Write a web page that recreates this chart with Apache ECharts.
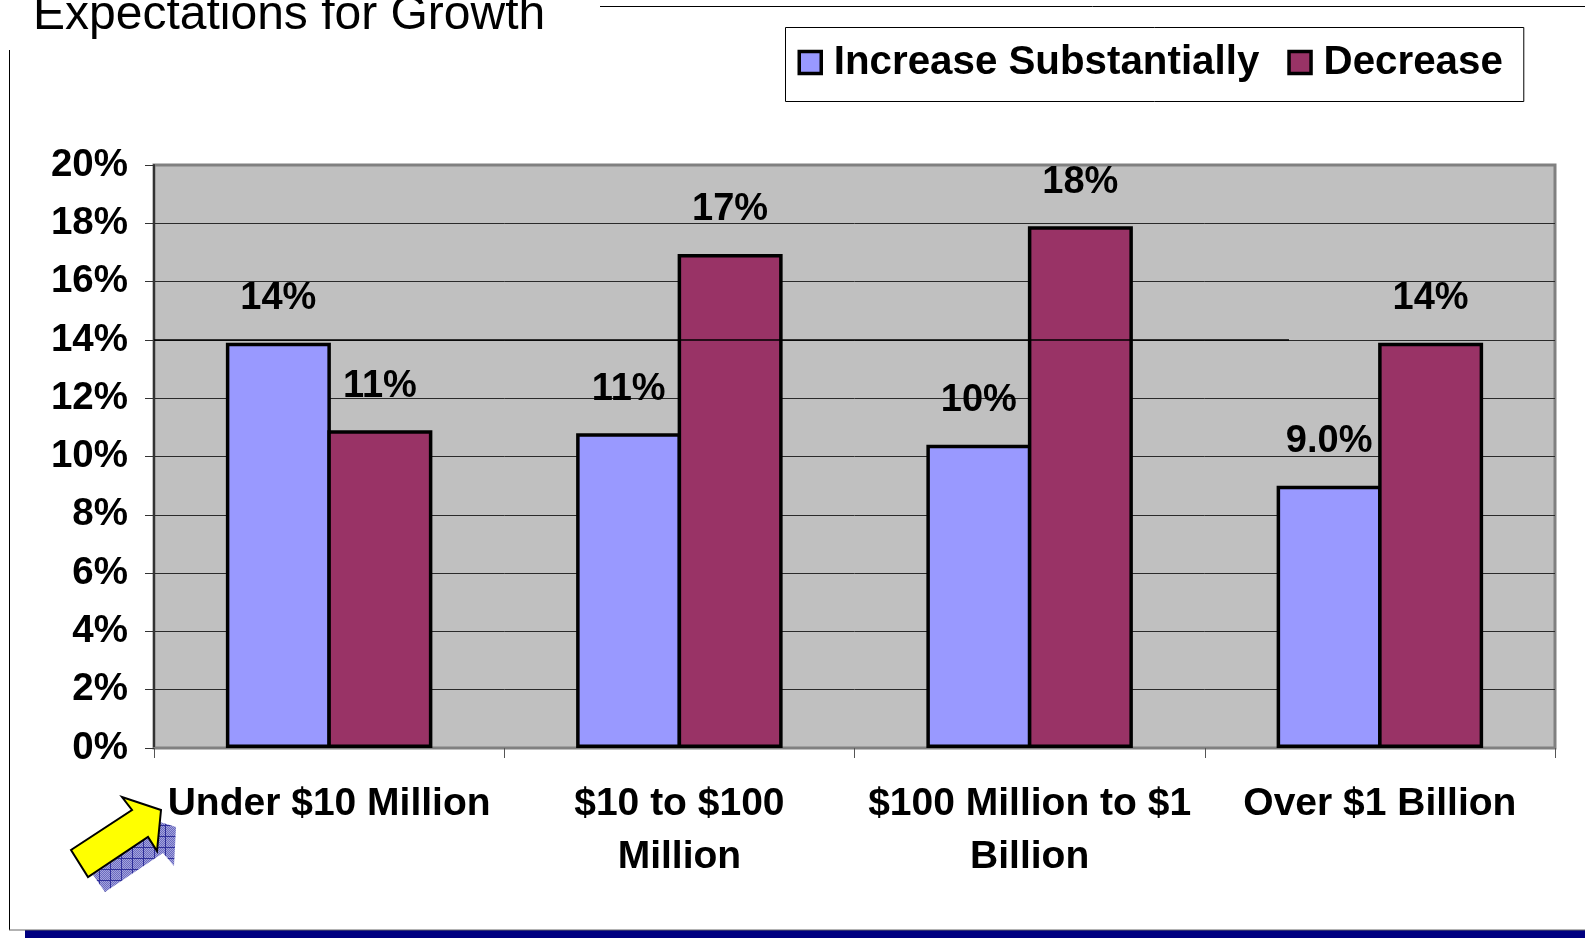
<!DOCTYPE html>
<html>
<head>
<meta charset="utf-8">
<style>html,body{margin:0;padding:0;background:#fff}#chart{width:1585px;height:938px}</style>
<script src="https://cdn.jsdelivr.net/npm/echarts@6/dist/echarts.min.js"></script>
</head>
<body>
<div id="chart"></div>
<script>
const categories = ['Under $10 Million', '$10 to $100\nMillion', '$100 Million to $1\nBillion', 'Over $1 Billion'];
const increaseSubstantially = [13.9, 10.8, 10.4, 9.0];
const decrease = [10.9, 16.95, 17.9, 13.9];
const seriesNames = ['Increase Substantially', 'Decrease'];
const yTicks = { min: 0, max: 20, interval: 2 };

const FONT = '"Liberation Sans", Arial, sans-serif';
const INK = '#000';

// Values under ten keep one decimal; the rest are whole percentages.
const percentLabel = p => (p.value < 10 ? p.value.toFixed(1) : Math.round(p.value)) + '%';

const barSeries = (name, data, color) => ({
  name, data, type: 'bar', barWidth: 105, barGap: '-3.33%',
  itemStyle: { color, borderColor: INK, borderWidth: 3.5 },
  label: {
    show: true, position: 'top', distance: 25, formatter: percentLabel,
    fontFamily: FONT, fontWeight: 'bold', fontSize: 38, color: INK
  }
});

// Cross-hatched tile used for the arrow's drop shadow.
function hatchTile() {
  const c = document.createElement('canvas');
  c.width = c.height = 11;
  const g = c.getContext('2d');
  for (let y = 0; y < 11; y++) for (let x = 0; x < 11; x++) {
    g.fillStyle = (x + y) % 2 ? '#6a6ac0' : '#a4a4dc';
    g.fillRect(x, y, 1, 1);
  }
  g.fillStyle = '#30309a';
  g.fillRect(0, 0, 11, 1);
  g.fillRect(0, 0, 1, 11);
  return c;
}

const chart = echarts.init(document.getElementById('chart'), null, { renderer: 'canvas' });
chart.setOption({
  animation: false,
  backgroundColor: '#fff',
  title: {
    text: 'Expectations for Growth', left: 33, top: -8, padding: 0,
    textStyle: { fontFamily: FONT, fontWeight: 'normal', fontSize: 48, color: INK }
  },
  legend: {
    left: 785.5, top: 27.5, padding: [15, 21, 19, 12],
    itemWidth: 37, itemHeight: 22, itemGap: 28, orient: 'horizontal',
    backgroundColor: '#fff', borderColor: INK, borderWidth: 1, borderRadius: 0,
    icon: 'path://M0 0H1V1H0Z', symbolKeepAspect: true, data: seriesNames,
    textStyle: { fontFamily: FONT, fontWeight: 'bold', fontSize: 40.3, color: INK },
    itemStyle: { borderColor: INK, borderWidth: 3.5 }
  },
  grid: {
    left: 154, right: 30, top: 165, bottom: 190, show: true,
    backgroundColor: '#C0C0C0', borderColor: '#808080', borderWidth: 3
  },
  xAxis: {
    type: 'category', data: categories,
    axisLine: { lineStyle: { color: '#808080', width: 2 } },
    axisTick: { show: true, length: 10, alignWithLabel: false, lineStyle: { color: '#555', width: 1 } },
    axisLabel: {
      interval: 0, margin: 30, lineHeight: 53, verticalAlign: 'top',
      fontFamily: FONT, fontWeight: 'bold', fontSize: 39, color: INK
    }
  },
  yAxis: {
    type: 'value', min: yTicks.min, max: yTicks.max, interval: yTicks.interval,
    axisLine: { show: true, lineStyle: { color: '#333', width: 2 } },
    axisTick: { show: true, length: 9, lineStyle: { color: '#333', width: 1 } },
    axisLabel: {
      formatter: '{value}%', margin: 26, showMinLabel: true, showMaxLabel: true,
      fontFamily: FONT, fontWeight: 'bold', fontSize: 38.5, color: INK
    },
    splitLine: { show: true, showMinLine: false, showMaxLine: false, lineStyle: { color: '#2a2a2a', width: 1 } }
  },
  series: [
    barSeries(seriesNames[0], increaseSubstantially, '#9999FF'),
    barSeries(seriesNames[1], decrease, '#993366')
  ]
});

// Slide furniture around the chart: frame, rules, footer band, arrow, and the
// heavier rule at the 14% level that runs over the bars.
const rule14 = chart.convertToPixel({ yAxisIndex: 0 }, 14);
const line = (x1, y1, x2, y2, stroke, lineWidth) => ({
  type: 'line', silent: true, z: 20,
  shape: { x1, y1, x2, y2 }, style: { stroke, lineWidth }
});
chart.setOption({
  graphic: [
    line(600, 6.5, 1585, 6.5, INK, 1),
    line(9.5, 50, 9.5, 930, INK, 1),
    line(9, 930, 1585, 930, '#666', 1),
    { type: 'rect', silent: true, z: 19, shape: { x: 25, y: 930, width: 1560, height: 8 }, style: { fill: '#000080' } },
    line(154, rule14, 1289, rule14, INK, 1.5),
    { type: 'polygon', silent: true, z: 21,
      shape: { points: [[93, 875], [105, 892], [163, 853], [174, 866], [176, 827], [160, 822], [157, 851], [148, 837]] },
      style: { fill: { image: hatchTile(), repeat: 'repeat' } } },
    { type: 'polygon', silent: true, z: 22,
      shape: { points: [[71, 850], [88, 877], [148, 837], [157, 851], [161, 810], [122, 797], [132, 810]] },
      style: { fill: '#FFFF00', stroke: INK, lineWidth: 2 } }
  ]
});
</script>
</body>
</html>
